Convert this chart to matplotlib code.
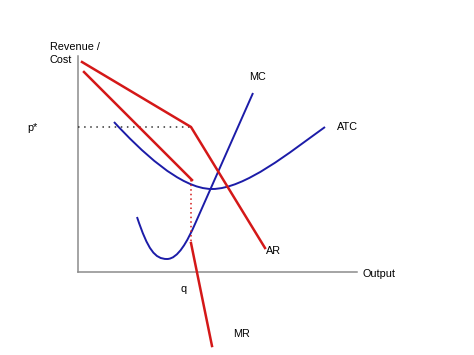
import matplotlib.pyplot as plt
from matplotlib.path import Path
from matplotlib.patches import PathPatch

plt.rcParams['font.family'] = ['Liberation Sans', 'DejaVu Sans']

ar_x = [82, 191, 265]
ar_y = [62, 127, 248]

mr_top_x = [84, 192]
mr_top_y = [72, 180]
mr_low_x = [191, 212]
mr_low_y = [243, 346]

# cubic bezier nodes / control points for the cost curves
atc_x = [114, 140, 180, 212, 245, 290, 325]
atc_y = [122, 150, 189, 189, 189, 152, 127]
atc_codes = [Path.MOVETO] + [Path.CURVE4] * 6

mc_x = [137, 148, 155, 167, 178, 187.5, 195, 253]
mc_y = [217, 250, 259, 259, 259, 241, 224, 93]
mc_codes = [Path.MOVETO] + [Path.CURVE4] * 6 + [Path.LINETO]

axis_x0, axis_y0 = 78, 272
axis_top, axis_right = 56, 357
kink_x, kink_y = 191, 127

red = '#d41818'
blue = '#1c1ca8'

fig = plt.figure(figsize=(4.74, 3.55), dpi=100)
ax = fig.add_axes([0, 0, 1, 1])
ax.set_xlim(0, 474)
ax.set_ylim(355, 0)
ax.axis('off')

# axes
ax.plot([axis_x0, axis_x0], [axis_top, axis_y0], color='#8c8c8c', lw=1.1)
ax.plot([axis_x0, axis_right], [axis_y0, axis_y0], color='#8c8c8c', lw=1.1)

# guide lines
ax.plot([axis_x0, kink_x], [kink_y, kink_y], color='#333333', lw=1.1, ls=(0, (1, 3)))
ax.plot([mr_top_x[1] - 1, mr_low_x[0]], [mr_top_y[1], mr_low_y[0]], color=red, lw=1.1, ls=(0, (1, 2)))

# cost curves
for xs, ys, codes in [(atc_x, atc_y, atc_codes), (mc_x, mc_y, mc_codes)]:
    path = Path(list(zip(xs, ys)), codes)
    ax.add_patch(PathPatch(path, facecolor='none', edgecolor=blue, lw=1.4))

# revenue curves
ax.plot(ar_x, ar_y, color=red, lw=1.8)
ax.plot(mr_top_x, mr_top_y, color=red, lw=1.8)
ax.plot(mr_low_x, mr_low_y, color=red, lw=1.8)

fs = 7.8
ax.text(50, 47, 'Revenue /', fontsize=fs, va='center')
ax.text(50, 60, 'Cost', fontsize=fs, va='center')
ax.text(27, 128, 'p*', fontsize=fs, va='center')
ax.text(181, 289, 'q', fontsize=fs, va='center')
ax.text(363, 274, 'Output', fontsize=fs, va='center')
ax.text(249, 77, 'MC', fontsize=fs, va='center')
ax.text(337, 127, 'ATC', fontsize=fs, va='center')
ax.text(266, 251, 'AR', fontsize=fs, va='center')
ax.text(233, 334, 'MR', fontsize=fs, va='center')

fig.savefig('out.png', dpi=100)
